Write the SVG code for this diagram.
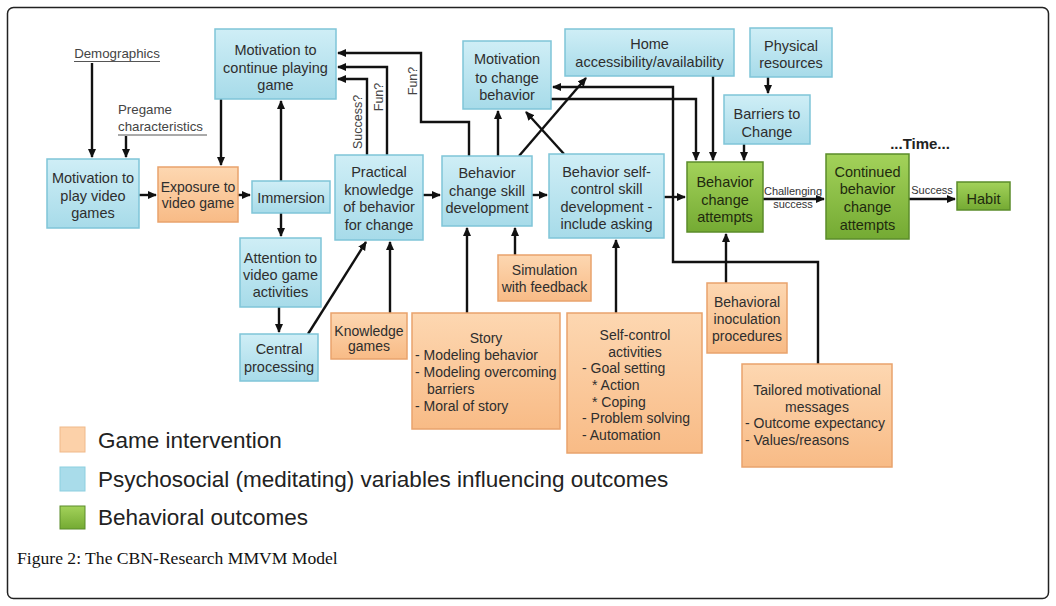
<svg xmlns="http://www.w3.org/2000/svg" width="1056" height="606" viewBox="0 0 1056 606">
<style>
.t{font-family:"Liberation Sans",Arial,sans-serif;font-size:14.5px;fill:#2e2e2e;text-anchor:middle}
.o{font-family:"Liberation Sans",Arial,sans-serif;font-size:14px;fill:#2e2e2e}
.oc{text-anchor:middle}
.g{fill:#1f2a0e}
.s{font-family:"Liberation Sans",Arial,sans-serif;font-size:13.3px;fill:#444}
.l{font-family:"Liberation Sans",Arial,sans-serif;font-size:12.5px;fill:#444;text-anchor:middle}
.l2{font-family:"Liberation Sans",Arial,sans-serif;font-size:11px;fill:#333;text-anchor:middle}
.lg{font-family:"Liberation Sans",Arial,sans-serif;font-size:22.5px;fill:#222}
.blue{fill:url(#gb);stroke:#7fc5d8;stroke-width:1.5}
.orange{fill:url(#go);stroke:#e9a36c;stroke-width:1.5}
.green{fill:url(#gg);stroke:#5b8c2a;stroke-width:1.5}
.c path{fill:none;stroke:#111;stroke-width:2.4;marker-end:url(#ah)}
</style>
<defs>
<linearGradient id="gb" x1="0" y1="0" x2="0" y2="1"><stop offset="0" stop-color="#cfeef6"/><stop offset="1" stop-color="#a7dbe9"/></linearGradient>
<linearGradient id="go" x1="0" y1="0" x2="0" y2="1"><stop offset="0" stop-color="#fdd7b1"/><stop offset="1" stop-color="#f8bb86"/></linearGradient>
<linearGradient id="gg" x1="0" y1="0" x2="0" y2="1"><stop offset="0" stop-color="#a3d25a"/><stop offset="1" stop-color="#74aa33"/></linearGradient>
<marker id="ah" viewBox="0 0 10 10" refX="9" refY="5" markerWidth="9" markerHeight="9" markerUnits="userSpaceOnUse" orient="auto"><path d="M0,0.5 L10,5 L0,9.5 z" fill="#111"/></marker>
</defs>
<rect x="0" y="0" width="1056" height="606" fill="#fff"/>
<rect x="7.5" y="7.5" width="1041" height="591" rx="6" fill="#fff" stroke="#222" stroke-width="1.5"/>

<g id="connectors" class="c">
<path d="M92,63 V157"/>
<path d="M126,136 V157"/>
<path d="M221,99 V165"/>
<path d="M139,195 H156"/>
<path d="M238,195 H250"/>
<path d="M281,181 V101"/>
<path d="M281,213 V236"/>
<path d="M279,307 V332"/>
<path d="M308,334 L366,242"/>
<path d="M390,313 V242"/>
<path d="M423,195 H440"/>
<path d="M532,195 H547"/>
<path d="M664,197 H685"/>
<path d="M367,155 V79 H338"/>
<path d="M387,155 V67 H338"/>
<path d="M469,156 V122 H421 V53 H338"/>
<path d="M498,156 V111"/>
<path d="M519,156 L586,78"/>
<path d="M564,154 L526,112"/>
<path d="M551,99 H696 V160"/>
<path d="M818,364 V262 H673 V87 H553"/>
<path d="M713,76 V160"/>
<path d="M768,77 V93"/>
<path d="M744,144 V160"/>
<path d="M726,283 V234"/>
<path d="M763,199 H824"/>
<path d="M909,199 H955"/>
<path d="M467,313 V228"/>
<path d="M515,255 V228"/>
<path d="M616,313 V240"/>
</g>

<g id="labels">
<text class="l" transform="translate(362,122) rotate(-90)">Success?</text>
<text class="l" transform="translate(383,97) rotate(-90)">Fun?</text>
<text class="l" transform="translate(417,81) rotate(-90)">Fun?</text>
<text class="l2" x="793" y="195">Challenging</text>
<text class="l2" x="793" y="208">success</text>
<text class="l2" x="932" y="194">Success</text>
<text x="920" y="149" text-anchor="middle" font-family="Liberation Sans,Arial,sans-serif" font-size="15" font-weight="bold" fill="#222">...Time...</text>
</g>

<g id="demographics">
<text class="s" x="117" y="58" text-anchor="middle">Demographics</text>
<line x1="74" y1="61.5" x2="160" y2="61.5" stroke="#555" stroke-width="1"/>
</g>
<g id="pregame">
<text class="s" x="118" y="114">Pregame</text>
<text class="s" x="118" y="131">characteristics</text>
<line x1="118" y1="135" x2="207" y2="135" stroke="#555" stroke-width="1"/>
</g>

<g id="motivation-play"><rect class="blue" x="47" y="159" width="92" height="69"/>
<text class="t" x="93" y="183">Motivation to</text><text class="t" x="93" y="200.5">play video</text><text class="t" x="93" y="218">games</text></g>

<g id="exposure"><rect class="orange" x="158" y="167" width="80" height="55"/>
<text class="o oc" x="198" y="192">Exposure to</text><text class="o oc" x="198" y="208">video game</text></g>

<g id="immersion"><rect class="blue" x="252" y="181" width="78" height="32"/>
<text class="t" x="291" y="203">Immersion</text></g>

<g id="motivation-continue"><rect class="blue" x="215" y="29" width="121" height="70"/>
<text class="t" x="275.5" y="55">Motivation to</text><text class="t" x="275.5" y="72.5">continue playing</text><text class="t" x="275.5" y="90">game</text></g>

<g id="attention"><rect class="blue" x="240" y="238" width="81" height="69"/>
<text class="t" x="280.5" y="263">Attention to</text><text class="t" x="280.5" y="280">video game</text><text class="t" x="280.5" y="297">activities</text></g>

<g id="central"><rect class="blue" x="240" y="334" width="78" height="47"/>
<text class="t" x="279" y="354">Central</text><text class="t" x="279" y="372">processing</text></g>

<g id="practical"><rect class="blue" x="335" y="155" width="88" height="85"/>
<text class="t" x="379" y="177">Practical</text><text class="t" x="379" y="195">knowledge</text><text class="t" x="379" y="212">of behavior</text><text class="t" x="379" y="230">for change</text></g>

<g id="knowledge-games"><rect class="orange" x="331" y="313" width="76" height="46"/>
<text class="o oc" x="369" y="336">Knowledge</text><text class="o oc" x="369" y="351">games</text></g>

<g id="skill-development"><rect class="blue" x="442" y="156" width="90" height="70"/>
<text class="t" x="487" y="178">Behavior</text><text class="t" x="487" y="195.5">change skill</text><text class="t" x="487" y="213">development</text></g>

<g id="self-control-skill"><rect class="blue" x="549" y="154" width="115" height="84"/>
<text class="t" x="606.5" y="177">Behavior self-</text><text class="t" x="606.5" y="194">control skill</text><text class="t" x="606.5" y="212">development -</text><text class="t" x="606.5" y="229">include asking</text></g>

<g id="motivation-change"><rect class="blue" x="463" y="41" width="88" height="68"/>
<text class="t" x="507" y="64">Motivation</text><text class="t" x="507" y="83">to change</text><text class="t" x="507" y="100">behavior</text></g>

<g id="home"><rect class="blue" x="565" y="29" width="169" height="47"/>
<text class="t" x="649.5" y="49">Home</text><text class="t" x="649.5" y="67">accessibility/availability</text></g>

<g id="physical"><rect class="blue" x="750" y="28" width="82" height="49"/>
<text class="t" x="791" y="51">Physical</text><text class="t" x="791" y="68">resources</text></g>

<g id="barriers"><rect class="blue" x="724" y="95" width="86" height="49"/>
<text class="t" x="767" y="119">Barriers to</text><text class="t" x="767" y="137">Change</text></g>

<g id="attempts"><rect class="green" x="687" y="162" width="76" height="70"/>
<text class="t g" x="725" y="187">Behavior</text><text class="t g" x="725" y="205">change</text><text class="t g" x="725" y="222">attempts</text></g>

<g id="continued"><rect class="green" x="826" y="154" width="83" height="85"/>
<text class="t g" x="867.5" y="177">Continued</text><text class="t g" x="867.5" y="194">behavior</text><text class="t g" x="867.5" y="212">change</text><text class="t g" x="867.5" y="230">attempts</text></g>

<g id="habit"><rect class="green" x="957" y="182" width="53" height="28"/>
<text class="t g" x="983.5" y="204">Habit</text></g>

<g id="simulation"><rect class="orange" x="498" y="255" width="93" height="46"/>
<text class="o oc" x="544.5" y="275">Simulation</text><text class="o oc" x="544.5" y="292">with feedback</text></g>

<g id="story"><rect class="orange" x="412" y="313" width="148" height="116"/>
<text class="o oc" x="486" y="343">Story</text>
<text class="o" x="415" y="360">- Modeling behavior</text>
<text class="o" x="415" y="377">- Modeling overcoming</text>
<text class="o" x="427" y="394">barriers</text>
<text class="o" x="415" y="411">- Moral of story</text></g>

<g id="self-control-activities"><rect class="orange" x="567" y="313" width="135" height="140"/>
<text class="o oc" x="635" y="340">Self-control</text>
<text class="o oc" x="635" y="357">activities</text>
<text class="o" x="582" y="373">- Goal setting</text>
<text class="o" x="592" y="390">* Action</text>
<text class="o" x="592" y="407">* Coping</text>
<text class="o" x="582" y="423">- Problem solving</text>
<text class="o" x="582" y="440">- Automation</text></g>

<g id="inoculation"><rect class="orange" x="707" y="283" width="80" height="70"/>
<text class="o oc" x="747" y="307">Behavioral</text><text class="o oc" x="747" y="324">inoculation</text><text class="o oc" x="747" y="341">procedures</text></g>

<g id="tailored"><rect class="orange" x="742" y="364" width="150" height="103"/>
<text class="o oc" x="817" y="395">Tailored motivational</text>
<text class="o oc" x="817" y="412">messages</text>
<text class="o" x="745" y="428">- Outcome expectancy</text>
<text class="o" x="745" y="445">- Values/reasons</text></g>

<g id="legend">
<rect x="60" y="427" width="25" height="25" fill="#fcd1a9" stroke="#f0b98a" stroke-width="1"/>
<text class="lg" x="98" y="448">Game intervention</text>
<rect x="60" y="467" width="25" height="24" fill="#a9dcea" stroke="#8ccfe0" stroke-width="1"/>
<text class="lg" x="98" y="487">Psychosocial (meditating) variables influencing outcomes</text>
<rect x="60" y="506" width="25" height="23" fill="url(#gg)" stroke="#5b8c2a" stroke-width="1"/>
<text class="lg" x="98" y="525">Behavioral outcomes</text>
</g>

<text x="17" y="564" font-family="Liberation Serif,Times New Roman,serif" font-size="17.6" fill="#111">Figure 2: The CBN-Research MMVM Model</text>
</svg>
